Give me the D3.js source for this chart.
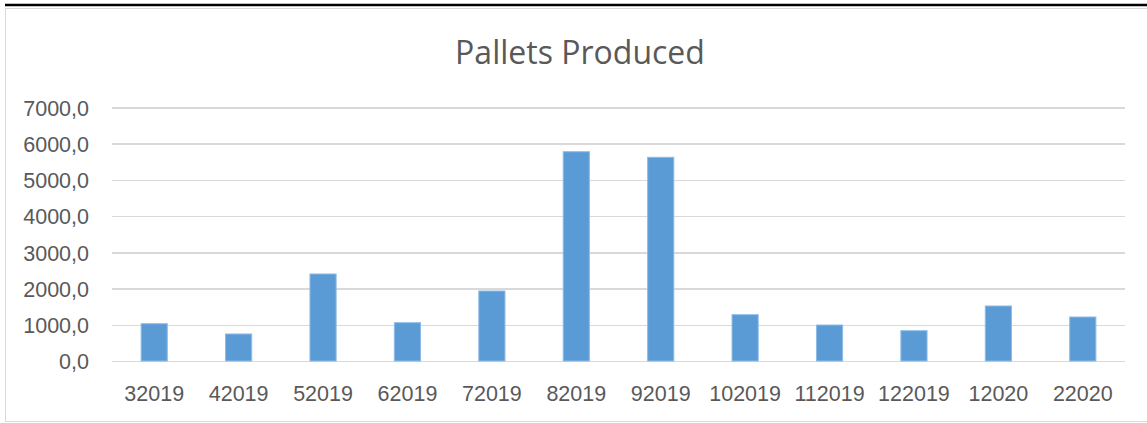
<!DOCTYPE html>
<html lang="en">
<head>
<meta charset="utf-8">
<title>Pallets Produced</title>
<script src="https://d3js.org/d3.v7.min.js"></script>
<style>
  body { margin: 0; padding: 0; background: #fff; }
  svg { display: block; font-family: 'Open Sans', sans-serif; }
  .grid line { stroke: #d9d9d9; stroke-width: 1.5px; shape-rendering: crispEdges; }
  .grid path { display: none; }
  .axis text { fill: #595959; font-size: 21.5px; }
  .axis path, .axis line { display: none; }
  .bar { fill: #5b9bd5; stroke: #8fbbe6; stroke-width: 1px; }
</style>
</head>
<body>
<script>
// chart data
var months = ["32019", "42019", "52019", "62019", "72019", "82019",
              "92019", "102019", "112019", "122019", "12020", "22020"];
var pallets = [1030, 746, 2403, 1058, 1933, 5780, 5625, 1279, 994, 837, 1519, 1215];
var yTicks = [0, 1000, 2000, 3000, 4000, 5000, 6000, 7000];

var width = 1147, height = 423;
var margin = {top: 107.5, right: 22, bottom: 62, left: 112};

var svg = d3.select("body").append("svg")
    .attr("width", width)
    .attr("height", height);

// frame: black rule on top, light grey chart border
svg.append("rect")
    .attr("x", 5.5).attr("y", 8.5)
    .attr("width", width).attr("height", 413)
    .attr("fill", "none")
    .attr("stroke", "#d9d9d9");
svg.append("line")
    .attr("x1", 5).attr("x2", width)
    .attr("y1", 5).attr("y2", 5)
    .attr("stroke", "#000")
    .attr("stroke-width", 2.5);

var x = d3.scaleBand()
    .domain(months)
    .range([margin.left, width - margin.right])
    .paddingInner(0.69)
    .paddingOuter(0.345);

var y = d3.scaleLinear()
    .domain([0, 7000])
    .range([height - margin.bottom, margin.top]);

var fmt = function(d) { return d3.format(".1f")(d).replace(".", ","); };

// gridlines
svg.append("g")
    .attr("class", "grid")
    .attr("transform", "translate(" + margin.left + ",0)")
    .call(d3.axisLeft(y).tickValues(yTicks)
        .tickSize(-(width - margin.left - margin.right)).tickFormat(""));

// y labels
svg.append("g")
    .attr("class", "axis")
    .attr("transform", "translate(" + (margin.left - 23) + ",0)")
    .call(d3.axisLeft(y).tickValues(yTicks).tickSize(0).tickFormat(fmt))
    .selectAll("text").attr("x", 0).attr("dy", "0.36em");

// bars
svg.append("g")
    .selectAll("rect")
    .data(pallets)
    .enter()
    .append("rect")
    .attr("class", "bar")
    .attr("x", function(d, i) { return x(months[i]); })
    .attr("width", x.bandwidth())
    .attr("y", function(d) { return y(d); })
    .attr("height", function(d) { return y(0) - y(d); });

// x labels
svg.append("g")
    .attr("class", "axis")
    .attr("transform", "translate(0," + (height - margin.bottom) + ")")
    .call(d3.axisBottom(x).tickSize(0))
    .selectAll("text").attr("y", 25);

// title
svg.append("text")
    .attr("x", 580)
    .attr("y", 64)
    .attr("text-anchor", "middle")
    .attr("fill", "#595959")
    .style("font-size", "32px")
    .text("Pallets Produced");
</script>
</body>
</html>
